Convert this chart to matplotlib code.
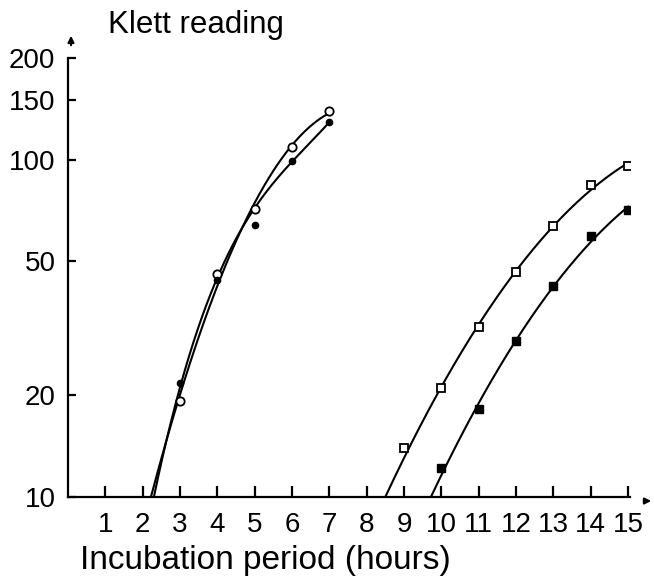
import numpy as np
import matplotlib
matplotlib.use("Agg")
import matplotlib.pyplot as plt

plt.rcParams['font.family'] = ['Liberation Sans', 'DejaVu Sans']

# Data (Klett reading vs incubation hours)
open_circle_x = [3, 4, 5, 6, 7]
open_circle_y = [19.2, 45.7, 71.5, 109, 139]
filled_circle_x = [3, 4, 5, 6, 7]
filled_circle_y = [21.7, 44, 64, 99, 129]
open_square_x = [9, 10, 11, 12, 13, 14, 15]
open_square_y = [14, 21, 31.8, 46.3, 63.7, 84, 96]
filled_square_x = [10, 11, 12, 13, 14, 15]
filled_square_y = [12.2, 18.2, 28.9, 42.3, 59.4, 70.7]

# where each fitted curve meets the x axis (Klett = 10)
curve_start = {'oc': 2.22, 'fc': 2.3, 'os': 8.5, 'fs': 9.72}

x_ticks = list(range(1, 16))
y_ticks = [10, 20, 50, 100, 150, 200]

fig = plt.figure(figsize=(6.54, 5.81), dpi=100)
ax = fig.add_axes([68/654, 1 - 497/581, (630-68)/654, (497-58)/581])
ax.set_yscale('log')
ax.set_xlim(0, 15.05)
ax.set_ylim(10, 200)

def fit_curve(xs, ys, x0, deg, weights=None):
    xx = np.array([x0] + list(xs), float)
    yy = np.log10(np.array([10] + list(ys), float))
    w = np.ones_like(xx) if weights is None else np.array(weights, float)
    p = np.polyfit(xx, yy, deg, w=w)
    xf = np.linspace(x0, max(xs), 200)
    return xf, 10 ** np.polyval(p, xf)

lw = 1.5
curves = [
    fit_curve(open_circle_x, open_circle_y, curve_start['oc'], 2, [5, 1, 1, 1, 1, 1]),
    fit_curve(filled_circle_x, filled_circle_y, curve_start['fc'], 3,
              [5, 1, 1, 0.3, 2, 2]),
    fit_curve(open_square_x, open_square_y, curve_start['os'], 2, [5] + [1] * 7),
    fit_curve(filled_square_x, filled_square_y, curve_start['fs'], 2, [5] + [1] * 6),
]
for xf, yf in curves:
    ax.plot(xf, yf, color='black', lw=lw, zorder=2)

ax.plot(open_circle_x, open_circle_y, 'o', ms=6, mfc='white', mec='black', mew=1.3, zorder=3)
ax.plot(filled_circle_x, filled_circle_y, 'o', ms=4.5, mfc='black', mec='black', zorder=3)
ax.plot(open_square_x, open_square_y, 's', ms=6, mfc='white', mec='black', mew=1.3, zorder=3)
ax.plot(filled_square_x, filled_square_y, 's', ms=6, mfc='black', mec='black', zorder=3)

for s in ['top', 'right']:
    ax.spines[s].set_visible(False)
for s in ['left', 'bottom']:
    ax.spines[s].set_linewidth(1.6)

ax.set_xticks(x_ticks)
ax.set_xticklabels([str(t) for t in x_ticks])
ax.set_yticks(y_ticks)
ax.set_yticklabels([str(t) for t in y_ticks])
ax.yaxis.set_minor_locator(matplotlib.ticker.NullLocator())
ax.tick_params(axis='x', direction='in', length=8, width=1.6, pad=11, labelsize=20)
ax.tick_params(axis='y', direction='in', length=6, width=1.6, pad=9, labelsize=20)

fig.text(108/654, 1 - 25/581, 'Klett reading', fontsize=22.5, ha='left', va='center')
fig.text(80/654, 1 - 560/581, 'Incubation period (hours)', fontsize=24, ha='left', va='center')

# axis arrows
ax.annotate('', xy=(71/654, 1 - 33/581), xytext=(71/654, 1 - 48/581),
            xycoords='figure fraction', textcoords='figure fraction',
            arrowprops=dict(arrowstyle='-|>', color='black', lw=1.5, mutation_scale=9))
ax.annotate('', xy=(654/654, 1 - 501/581), xytext=(641/654, 1 - 501/581),
            xycoords='figure fraction', textcoords='figure fraction',
            arrowprops=dict(arrowstyle='-|>', color='black', lw=1.5, mutation_scale=9))

fig.savefig('out.png', dpi=100)
